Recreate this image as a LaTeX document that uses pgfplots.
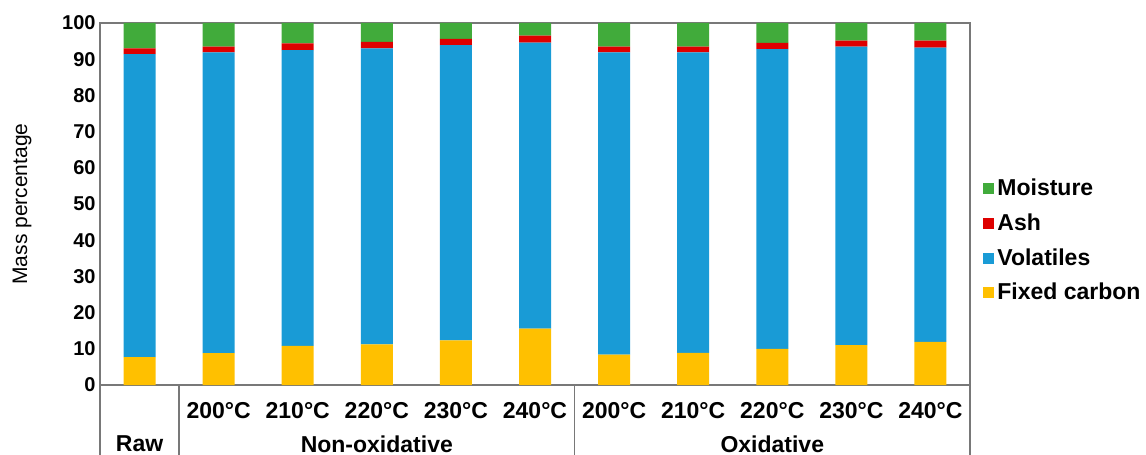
\documentclass[border=0pt]{standalone}
\usepackage{pgfplots}
\pgfplotsset{compat=1.18}
\usepackage{pgfplotstable}
\usepackage{fontspec}
\setmainfont{Liberation Sans}
\definecolor{cMoist}{RGB}{65,171,59}
\definecolor{cAsh}{RGB}{222,0,0}
\definecolor{cVol}{RGB}{25,155,214}
\definecolor{cFC}{RGB}{255,192,0}
\definecolor{cAxis}{RGB}{120,120,120}
\pgfplotstableread{
x fc vol ash moist
0 7.7 83.7 1.6 7.0
1 8.8 83.1 1.6 6.5
2 10.8 81.7 1.9 5.6
3 11.2 81.8 1.8 5.2
4 12.3 81.6 1.7 4.4
5 15.6 79.0 1.9 3.5
6 8.4 83.5 1.6 6.5
7 8.9 83.0 1.6 6.5
8 10.0 82.8 1.7 5.5
9 11.0 82.5 1.6 4.9
10 11.9 81.3 1.9 4.9
}\datatable
\begin{document}
\begin{tikzpicture}
\begin{axis}[
  name=ax, at={(0,0)}, anchor=south west,
  scale only axis, width=435pt, height=181pt,
  ybar stacked, bar width=16pt,
  xmin=-0.5, xmax=10.5, ymin=0, ymax=100,
  ytick={0,10,...,100}, xtick=\empty,
  major tick length=0pt,
  axis line style={cAxis, line width=0.75pt},
  clip=false,
  /pgf/number format/assume math mode=true,
  yticklabel style={font=\fontsize{10}{12}\selectfont\bfseries, inner sep=2pt},
  ylabel={Mass percentage},
  ylabel style={font=\fontsize{10.5}{12}\selectfont, at={(axis description cs:-0.0897,0.5)}, anchor=center},
  legend style={at={(1,0.398)}, anchor=west, xshift=6.5pt, draw=none, fill=none, inner sep=0pt,
    font=\fontsize{11.5}{13}\selectfont\bfseries, row sep=4.5pt,
    nodes={inner sep=1.5pt}},
  legend cell align=left,
  reverse legend,
  legend image code/.code={\draw[#1,draw=none] (0pt,-2.75pt) rectangle (5.5pt,2.75pt);},
]
\addplot[fill=cFC, draw=none] table[x=x, y=fc] {\datatable};
\addplot[fill=cVol, draw=none] table[x=x, y=vol] {\datatable};
\addplot[fill=cAsh, draw=none] table[x=x, y=ash] {\datatable};
\addplot[fill=cMoist, draw=none] table[x=x, y=moist] {\datatable};
\legend{Fixed carbon, Volatiles, Ash, Moisture}
\pgfplotsinvokeforeach{-0.5,0.5,5.5,10.5}{
  \draw[cAxis, line width=0.75pt] (axis cs:#1,0) -- ([yshift=-36pt]axis cs:#1,0);
}
\pgfplotsinvokeforeach{1,2,3,4,5}{
  \node[font=\fontsize{11.5}{13}\selectfont\bfseries] at (axis cs:#1,0) [yshift=-13pt] {2\the\numexpr#1-1\relax0°C};
}
\pgfplotsinvokeforeach{6,7,8,9,10}{
  \node[font=\fontsize{11.5}{13}\selectfont\bfseries] at (axis cs:#1,0) [yshift=-13pt] {2\the\numexpr#1-6\relax0°C};
}
\node[font=\fontsize{11.5}{13}\selectfont\bfseries] at (axis cs:0,0) [yshift=-29.5pt] {Raw};
\node[font=\fontsize{11.5}{13}\selectfont\bfseries] at (axis cs:3,0) [yshift=-29.5pt] {Non-oxidative};
\node[font=\fontsize{11.5}{13}\selectfont\bfseries] at (axis cs:8,0) [yshift=-29.5pt] {Oxidative};
\end{axis}
\pgfresetboundingbox
\path[use as bounding box] (-50pt,-35pt) rectangle (523pt,192.5pt);
\end{tikzpicture}
\end{document}
